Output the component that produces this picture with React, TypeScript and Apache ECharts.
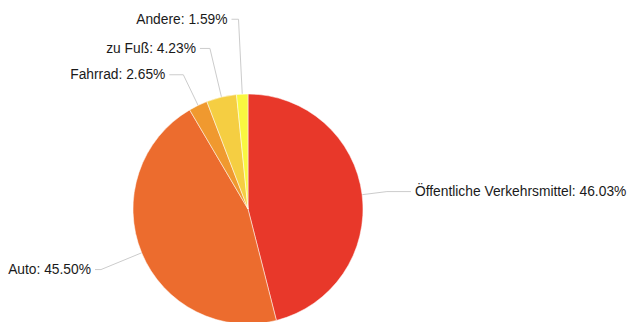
import React, { useEffect, useRef } from "react";
import * as echarts from "echarts";

const categories = ["Öffentliche Verkehrsmittel", "Auto", "Fahrrad", "zu Fuß", "Andere"];
const values = [46.03, 45.5, 2.65, 4.23, 1.59];
const colors = ["#e8382a", "#ec6c2e", "#f0992f", "#f5ce42", "#f9f740"];
const lineLengths = [25, 44, 34, 50, 75];
const lineLengths2 = [24, 6, 14, 10, 7];

export default function App() {
  const ref = useRef<HTMLDivElement>(null);
  useEffect(() => {
    if (!ref.current) return;
    const chart = echarts.init(ref.current, undefined, { renderer: "svg" });
    chart.setOption({
      animation: false,
      backgroundColor: "#ffffff",
      series: [
        {
          type: "pie",
          center: [248, 209],
          radius: 115,
          startAngle: 90,
          clockwise: true,
          avoidLabelOverlap: false,
          itemStyle: { borderColor: "#ffffff", borderWidth: 0.5 },
          label: {
            show: true,
            formatter: (p: any) => `${p.name}: ${p.value.toFixed(2)}%`,
            fontFamily: "Liberation Sans, Arial, sans-serif",
            fontSize: 13.8,
            color: "#1a1a1a",
            distanceToLabelLine: 4,
          },
          labelLine: {
            show: true,
            lineStyle: { color: "#cccccc", width: 1 },
          },
          emphasis: { disabled: true },
          data: categories.map((name, i) => ({
            name,
            value: values[i],
            itemStyle: { color: colors[i] },
            labelLine: { length: lineLengths[i], length2: lineLengths2[i] },
          })),
        },
      ],
    });
    return () => chart.dispose();
  }, []);
  return (
    <div
      ref={ref}
      style={{ position: "fixed", left: 0, top: 0, width: 638, height: 322 }}
    />
  );
}
